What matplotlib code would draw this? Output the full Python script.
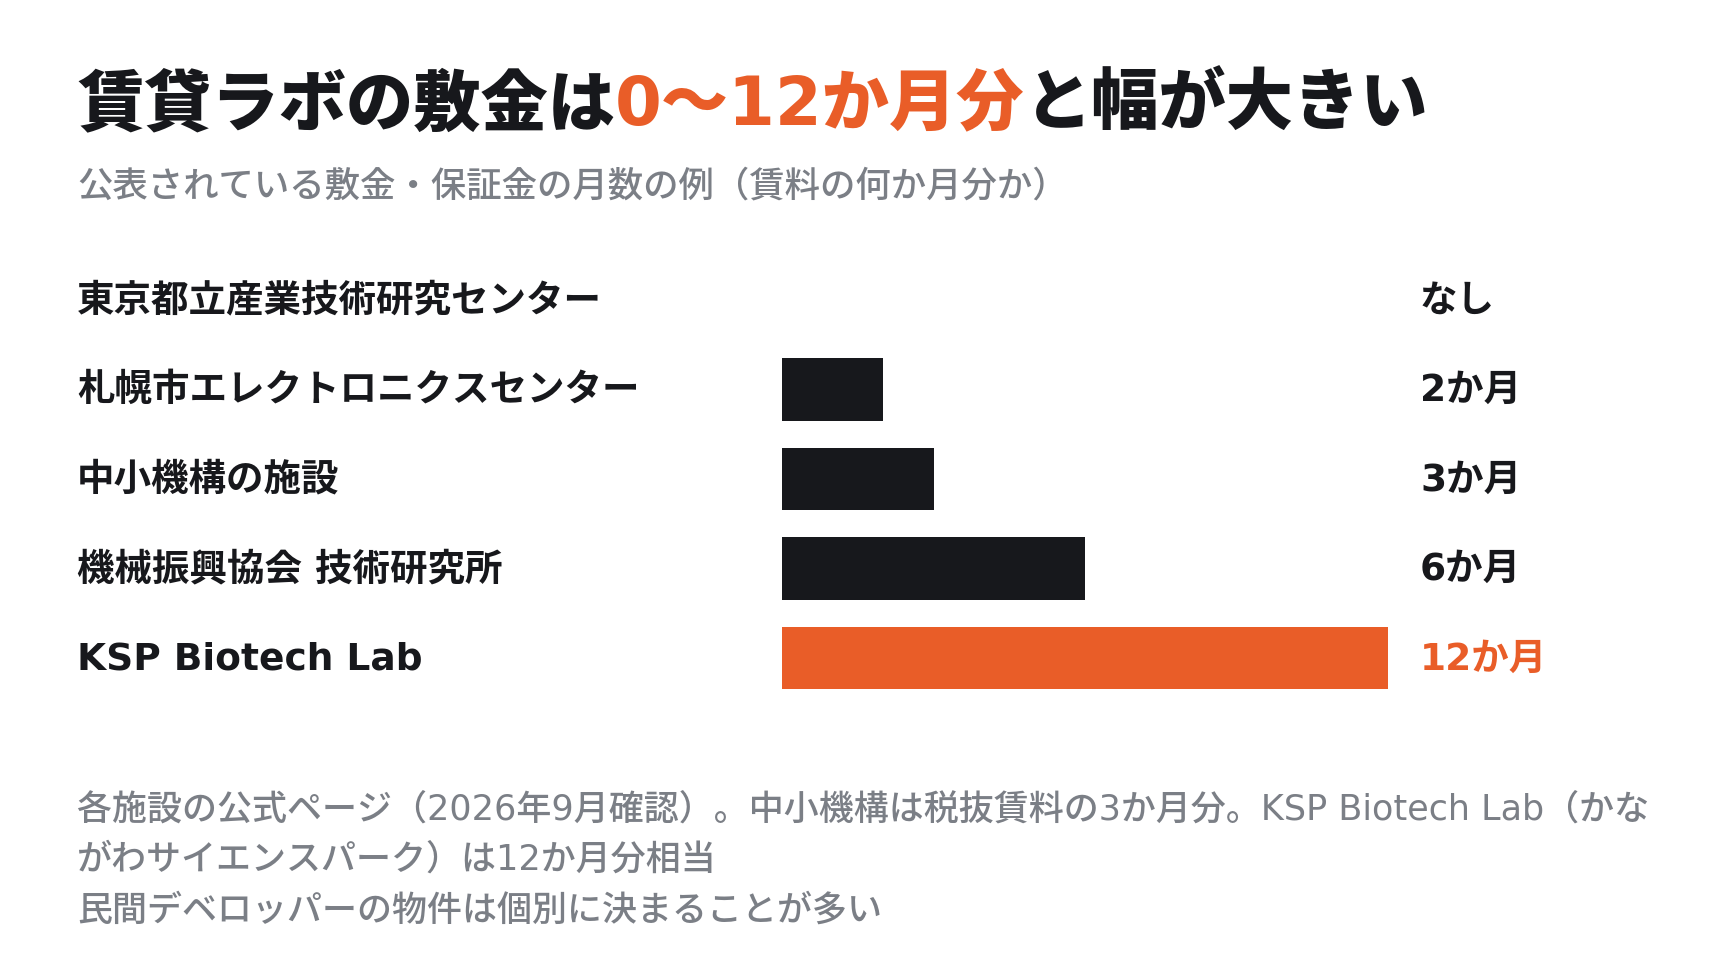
import matplotlib
matplotlib.use("Agg")
import matplotlib.pyplot as plt
import matplotlib.transforms as mtransforms

plt.rcParams['font.family'] = ['Noto Sans CJK JP', 'DejaVu Sans']
LATIN_FIRST = ['DejaVu Sans', 'Noto Sans CJK JP']

# --- データ ---
facilities = ["東京都立産業技術研究センター", "札幌市エレクトロニクスセンター",
              "中小機構の施設", "機械振興協会 技術研究所", "KSP Biotech Lab"]
months = [0, 2, 3, 6, 12]
value_labels = ["なし", "2か月", "3か月", "6か月", "12か月"]
highlight = [False, False, False, False, True]

title_parts = ["賃貸ラボの敷金は", "0〜12か月分", "と幅が大きい"]
subtitle = "公表されている敷金・保証金の月数の例（賃料の何か月分か）"
footnote = ["各施設の公式ページ（2026年9月確認）。中小機構は税抜賃料の3か月分。KSP Biotech Lab（かな",
            "がわサイエンスパーク）は12か月分相当",
            "民間デベロッパーの物件は個別に決まることが多い"]

DARK = "#17181c"
ORANGE = "#e95d28"
GRAY = "#7b7f86"

W, H = 1736, 976
fig = plt.figure(figsize=(W / 100, H / 100), dpi=100)
fig.patch.set_facecolor("white")

def fx(px):
    return px / W

def fy(py):
    return 1 - py / H

# bars axes: x 782..1388 for 0..12, rows centred 300..658
row_h = 89.5
top = 300 - row_h / 2
ax = fig.add_axes([fx(782), fy(top + row_h * 5), fx(1388) - fx(782), row_h * 5 / H])
ax.set_xlim(0, 12)
ax.set_ylim(len(facilities) - 0.5, -0.5)
ax.axis("off")

ypos = list(range(len(facilities)))
colors = [ORANGE if h else DARK for h in highlight]
ax.barh(ypos, months, height=0.70, color=colors, left=0)

trans = mtransforms.blended_transform_factory(fig.transFigure, ax.transData)
for i, (name, lab, h) in enumerate(zip(facilities, value_labels, highlight)):
    ax.text(fx(77), i + 0.02, name, transform=trans, ha="left", va="center",
            fontsize=27, fontweight="bold", color=DARK, family=LATIN_FIRST)
    ax.text(fx(1420), i + 0.02, lab, transform=trans, ha="left", va="center",
            fontsize=27, fontweight="bold", color=ORANGE if h else DARK,
            family=LATIN_FIRST)

# タイトル（3色に分けて横に並べる）
renderer = fig.canvas.get_renderer()
x = fx(77)
for part, col in zip(title_parts, [DARK, ORANGE, DARK]):
    t = fig.text(x, fy(106), part, ha="left", va="center", fontsize=48.4,
                 fontweight="black", color=col, family=LATIN_FIRST)
    bb = t.get_window_extent(renderer=renderer)
    x = bb.x1 / W

fig.text(fx(77), fy(187), subtitle, ha="left", va="center", fontsize=25.5,
         color=GRAY, fontweight="medium")

for line, yy in zip(footnote, [810, 860, 911]):
    fig.text(fx(77), fy(yy), line, ha="left", va="center", fontsize=25.2,
             color=GRAY, fontweight="medium", family=LATIN_FIRST)

fig.savefig("out.png", dpi=100, facecolor="white")
